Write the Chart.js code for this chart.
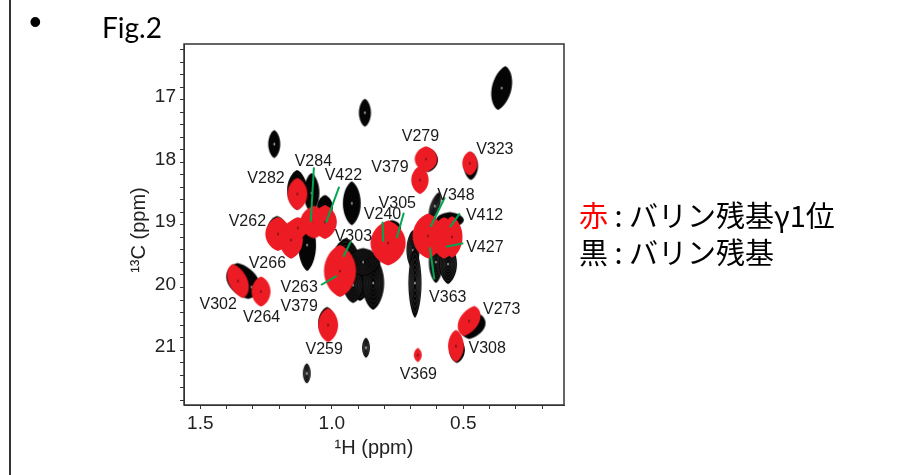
<!DOCTYPE html>
<html lang="ja">
<head>
<meta charset="utf-8">
<script src="https://cdn.jsdelivr.net/npm/chart.js@4"></script>
<style>
html,body{margin:0;padding:0;background:#fff;width:908px;height:475px;overflow:hidden}
#wrap{position:relative;width:908px;height:475px}
canvas{position:absolute;left:0;top:0}
.t{position:absolute;white-space:nowrap;color:#000;line-height:1}
#rule{position:absolute;left:9px;top:0;width:2px;height:475px;background:#333}
.cjk{font-family:"Noto Sans CJK JP","Noto Sans",sans-serif;font-size:29px}
</style>
</head>
<body>
<div id="wrap">
<canvas id="c" width="908" height="475"></canvas>
<div id="rule"></div>
<div class="t" style="left:29px;top:1px;font:36px 'Liberation Sans'">•</div>
<div class="t" style="left:102px;top:10px;font:28px Lato">Fig.2</div>
<div class="t cjk" style="left:579px;top:200px"><span style="color:#f00">赤</span> : バリン残基γ1位</div>
<div class="t cjk" style="left:579px;top:237px">黒 : バリン残基</div>
</div>
<script>
// 1H / 13C peak centres and half-widths (ppm)
const blackH = [1.219,0.874,0.924,0.354,1.132,1.077,1.026,1.094,1.208,1.338,1.305,0.947,0.893,0.843,0.919,1.018,0.870,1.095,0.691,0.684,0.604,0.558,0.608,0.551,0.771,0.463,0.524,0.471,0.634,0.881];
const blackC = [17.708,17.208,18.655,16.813,18.442,18.490,18.714,19.321,19.081,19.896,19.992,19.593,19.832,19.928,19.960,20.567,20.962,21.371,19.401,19.928,19.593,19.625,18.698,18.922,19.050,20.615,20.998,18.059,17.963,19.593];
const blackWidthH = [0.023,0.023,0.034,0.038,0.038,0.030,0.030,0.034,0.038,0.061,0.034,0.053,0.046,0.042,0.038,0.034,0.015,0.015,0.025,0.025,0.027,0.034,0.019,0.053,0.034,0.046,0.030,0.027,0.038,0.065];
const blackWidthC = [0.224,0.224,0.351,0.351,0.319,0.319,0.192,0.415,0.224,0.288,0.160,0.383,0.383,0.431,0.288,0.256,0.160,0.160,0.319,0.559,0.335,0.319,0.224,0.128,0.128,0.208,0.208,0.224,0.192,0.224];
const blackLean = [0,0,0,-0.17,0,0,0,0,0,0.3,0,0,0,0,0,0,0,0,0,0,0,0,-0.3,0,0,-0.3,0,0,0,0];
const blackDense = [0,0,0,0,0,0,0,0,0,0,0,1,1,1,1,0,1,1,1,1,1,1,1,0,0,0,0,0,0,1];

const redH = [1.131,1.068,1.026,1.205,1.155,1.129,1.357,1.269,0.969,1.014,0.642,0.665,0.475,0.786,0.634,0.573,0.543,0.478,0.528,0.673];
const redC = [18.506,18.954,18.954,19.145,19.241,19.049,19.896,20.064,19.736,20.599,17.947,18.283,18.016,19.289,19.177,19.209,19.193,20.535,20.934,21.078];
const redWidthH = [0.038,0.052,0.045,0.048,0.045,0.040,0.038,0.036,0.061,0.038,0.043,0.033,0.029,0.067,0.059,0.048,0.040,0.040,0.030,0.015];
const redWidthC = [0.256,0.260,0.270,0.270,0.300,0.170,0.272,0.240,0.415,0.272,0.205,0.222,0.192,0.360,0.360,0.330,0.330,0.240,0.256,0.112];
const redLean = [0,0,0,0,0,0,0.3,0,0,0,0,0,0,0,0,0,0,-0.35,0,0];

const labelText = ["V279","V323","V379","V284","V422","V282","V348","V305","V412","V240","V262","V303","V427","V266","V263","V379","V302","V264","V259","V363","V273","V308","V369"];
const labelH = [0.663,0.380,0.779,1.070,0.956,1.250,0.528,0.751,0.419,0.807,1.321,0.918,0.418,1.245,1.124,1.124,1.432,1.267,1.029,0.559,0.354,0.409,0.671];
const labelC = [17.588,17.792,18.091,17.987,18.219,18.267,18.530,18.655,18.858,18.842,18.954,19.189,19.358,19.625,20.003,20.307,20.268,20.482,20.987,20.157,20.348,20.971,21.398];

const leaderH1 = [1.068,0.972,0.928,1.041,0.807,0.726,0.570,0.513,0.500,0.610];
const leaderC1 = [18.080,18.390,19.268,19.960,18.949,18.805,18.559,18.815,19.294,19.869];
const leaderH2 = [1.080,1.022,0.956,0.981,0.804,0.753,0.624,0.551,0.566,0.627];
const leaderC2 = [18.949,18.965,19.508,19.816,19.268,19.209,19.029,19.038,19.348,19.358];

const xRange = [0.117, 1.562];
const yRange = [16.110, 21.877];
const xTitle = "¹H (ppm)";
const yTitle = "¹³C (ppm)";

const peaks = (H, C, wH, wC, lean, dense) => H.map((x, i) => ({x, y: C[i], wH: wH[i], wC: wC[i], lean: lean[i], dense: dense ? dense[i] : 0}));

function lens(g, cx, cy, rx, ry, lean) {
  const P = (a, b) => [cx + a + lean * b, cy + b];
  const curve = (a1, b1, a2, b2, a3, b3) => {
    const p1 = P(a1, b1), p2 = P(a2, b2), p3 = P(a3, b3);
    g.bezierCurveTo(p1[0], p1[1], p2[0], p2[1], p3[0], p3[1]);
  };
  const s = P(0, -ry);
  g.beginPath();
  g.moveTo(s[0], s[1]);
  curve(rx * .5, -ry * .9, rx, -ry * .48, rx, 0);
  curve(rx, ry * .48, rx * .5, ry * .9, 0, ry);
  curve(-rx * .5, ry * .9, -rx, ry * .48, -rx, 0);
  curve(-rx, -ry * .48, -rx * .5, -ry * .9, 0, -ry);
  g.closePath();
}

function glyph(color, speck) {
  const cache = new Map();
  return (ctx) => {
    const p = ctx.raw;
    if (!p) return 'circle';
    const sx = ctx.chart.scales.x, sy = ctx.chart.scales.y;
    const rx = Math.abs(sx.getPixelForValue(p.x + p.wH) - sx.getPixelForValue(p.x));
    const ry = Math.abs(sy.getPixelForValue(p.y + p.wC) - sy.getPixelForValue(p.y));
    if (!isFinite(rx) || !isFinite(ry) || rx === 0) return 'circle';
    if (cache.has(p)) return cache.get(p);
    const cv = document.createElement('canvas');
    cv.width = Math.ceil(2 * (rx + Math.abs(p.lean) * ry) + 4);
    cv.height = Math.ceil(2 * ry + 4);
    const g = cv.getContext('2d'), cx = cv.width / 2, cy = cv.height / 2;
    lens(g, cx, cy, rx, ry, p.lean);
    g.fillStyle = color;
    g.fill();
    if (p.dense) {
      g.strokeStyle = 'rgba(255,255,255,0.24)';
      g.lineWidth = 0.5;
      for (let k = 0.85; k > 0.1; k -= 0.15) { lens(g, cx, cy, rx * k, ry * k, p.lean); g.stroke(); }
    }
    g.fillStyle = speck;
    g.beginPath();
    g.ellipse(cx, cy, 0.7, 1.5, 0, 0, 7);
    g.fill();
    cache.set(p, cv);
    return cv;
  };
}

const leaders = leaderH1.map((h, i) => ({
  type: 'scatter', showLine: true, order: 0,
  data: [{x: h, y: leaderC1[i]}, {x: leaderH2[i], y: leaderC2[i]}],
  borderColor: '#00A651', borderWidth: 2, pointRadius: 0, fill: false
}));

const framePlugin = {
  id: 'frame',
  afterDraw(chart) {
    const a = chart.chartArea, g = chart.ctx;
    g.save();
    g.strokeStyle = '#333'; g.lineWidth = 1.5;
    g.strokeRect(a.left, a.top, a.right - a.left, a.bottom - a.top);
    g.restore();
  }
};
const labelPlugin = {
  id: 'peakLabels',
  afterDatasetsDraw(chart) {
    const g = chart.ctx, sx = chart.scales.x, sy = chart.scales.y;
    g.save();
    g.font = "16px 'Liberation Sans'";
    g.fillStyle = '#1a1a1a';
    g.textAlign = 'center'; g.textBaseline = 'middle';
    labelText.forEach((t, i) => g.fillText(t, sx.getPixelForValue(labelH[i]), sy.getPixelForValue(labelC[i])));
    g.restore();
  }
};

const tickFont = {family: "'Liberation Sans'", size: 19};
const titleFont = {family: "'Liberation Sans'", size: 20};
new Chart(document.getElementById('c'), {
  type: 'scatter',
  data: {
    datasets: [
      ...leaders,
      {label: '赤', order: 1, data: peaks(redH, redC, redWidthH, redWidthC, redLean),
       pointStyle: glyph('#ED1C24', '#5a1114'), pointRadius: 5, borderWidth: 0, backgroundColor: '#ED1C24'},
      {label: '黒', order: 2, data: peaks(blackH, blackC, blackWidthH, blackWidthC, blackLean, blackDense),
       pointStyle: glyph('#050505', '#cccccc'), pointRadius: 5, borderWidth: 0, backgroundColor: '#000'}
    ]
  },
  options: {
    responsive: false, animation: false, events: [],
    layout: {padding: {left: 127, top: 44, right: 344, bottom: 0}},
    plugins: {legend: {display: false}, tooltip: {enabled: false}, title: {display: false}},
    scales: {
      x: {
        type: 'linear', reverse: true, min: xRange[0], max: xRange[1],
        afterFit: s => { s.height = 70; },
        grid: {drawOnChartArea: false, drawTicks: true, tickLength: 4, color: '#333'},
        border: {display: true, color: '#333', width: 1},
        ticks: {stepSize: 0.1, autoSkip: false, maxRotation: 0, color: '#222', font: tickFont, padding: 3, includeBounds: false,
          callback: v => Math.abs(v * 2 - Math.round(v * 2)) < 1e-6 ? v.toFixed(1) : ''},
        title: {display: true, text: xTitle, color: '#222', font: titleFont, padding: {top: 0, bottom: 15}}
      },
      y: {
        type: 'linear', reverse: true, min: yRange[0], max: yRange[1],
        afterFit: s => { s.width = 57; },
        grid: {drawOnChartArea: false, drawTicks: true, tickLength: 4, color: '#333'},
        border: {display: true, color: '#333', width: 1},
        ticks: {stepSize: 0.2, autoSkip: false, color: '#222', font: tickFont, padding: 4, labelOffset: -3, includeBounds: false,
          callback: v => Math.abs(v - Math.round(v)) < 1e-6 ? String(Math.round(v)) : ''},
        title: {display: true, text: yTitle + '\u00a0\u00a0', color: '#222', font: titleFont, padding: 0}
      }
    }
  },
  plugins: [labelPlugin, framePlugin]
});
</script>
</body>
</html>
